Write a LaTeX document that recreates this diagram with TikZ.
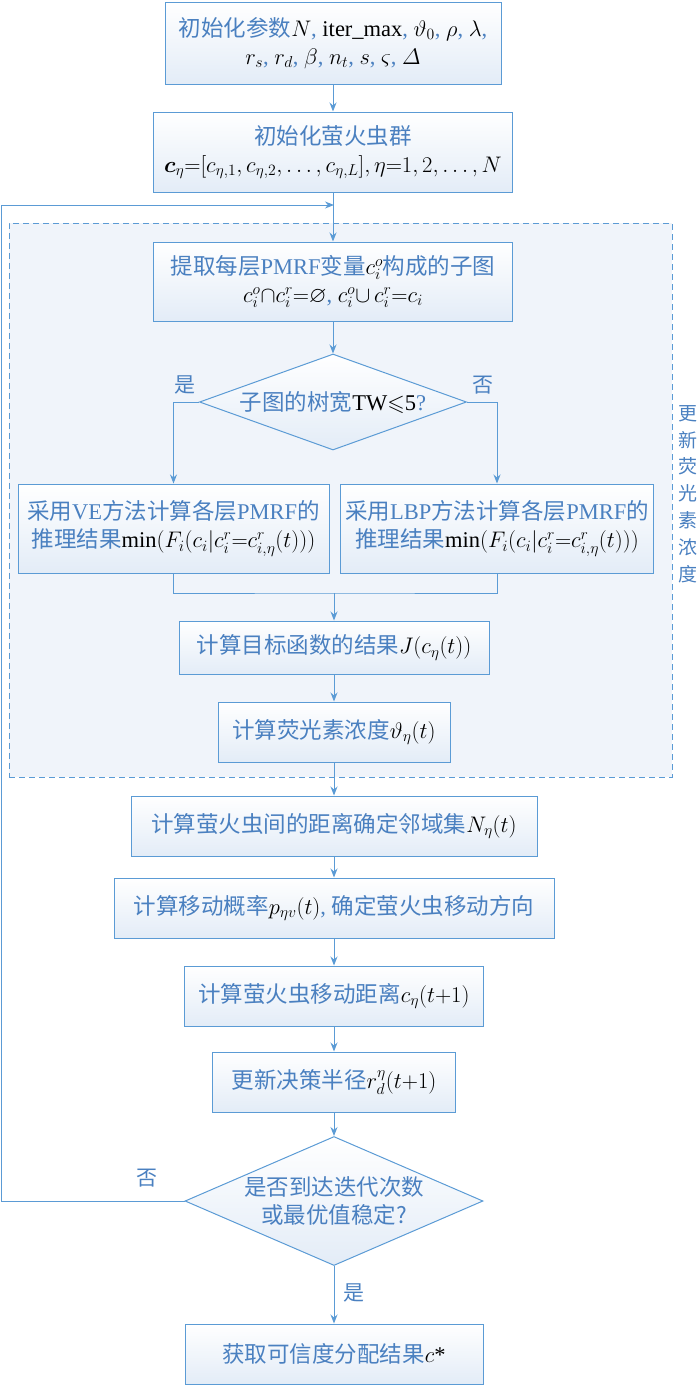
\documentclass[tikz,border=0pt]{standalone}
\usepackage{fix-cm}
\usepackage{amsmath,amssymb}
\usepackage{fontspec}
\setmainfont{Liberation Serif}
\newfontfamily\cjk{Noto Sans CJK SC}
\usetikzlibrary{shapes.geometric,arrows.meta}
\definecolor{lnc}{HTML}{5B9BD5}
\definecolor{txc}{HTML}{4A80C0}
\definecolor{fillb}{HTML}{E3ECF7}
\definecolor{dashf}{HTML}{F0F4FA}
\newcommand\mm[1]{\textcolor{black}{$#1$}}
\newcommand\zh[1]{{\cjk #1}}
\newcommand\bk[1]{\textcolor{black}{#1}}
\tikzset{
  boxs/.style={draw=lnc, line width=1pt, top color=white, bottom color=fillb,
    inner sep=0pt, align=center, text=txc, font=\fontsize{22.5}{28}\selectfont},
  dia/.style={diamond, draw=lnc, line width=1pt, top color=white, bottom color=fillb, inner sep=0pt},
  txt/.style={align=center, text=txc, font=\fontsize{22.5}{28}\selectfont, inner sep=0pt},
  lbl/.style={text=txc, font=\fontsize{21}{24}\selectfont\cjk, inner sep=0pt},
  ln/.style={draw=lnc, line width=1pt},
  arr/.style={ln, -{Stealth[length=9pt,width=7pt]}},
}
\begin{document}
\begin{tikzpicture}[x=1pt,y=-1pt]
\useasboundingbox (0,0) rectangle (700,1385);
% dashed region
\node[draw=lnc, dashed, dash pattern=on 6pt off 4pt, line width=1pt, fill=dashf, minimum width=663pt, minimum height=554pt, inner sep=0pt] (reg) at (340.5,500) {};
\node[text=txc, inner sep=0pt, align=center, font=\fontsize{19}{26.8}\selectfont\cjk] (side) at (688,494) {更\\新\\荧\\光\\素\\浓\\度};

\node[boxs, minimum width=336pt, minimum height=82pt] (b1) at (333,43)
 {\zh{初始化参数}\mm{N}, \bk{iter\_max}, \mm{\vartheta_0}, \mm{\rho}, \mm{\lambda},\\ \mm{r_s}, \mm{r_d}, \mm{\beta}, \mm{n_t}, \mm{s}, \mm{\varsigma}, \mm{\varDelta}};
\node[boxs, minimum width=359pt, minimum height=80pt] (b2) at (333,152)
 {\zh{初始化萤火虫群}\\ \mm{\boldsymbol{c}_\eta{=}[c_{\eta,1},c_{\eta,2},\ldots,c_{\eta,L}],\eta{=}1,2,\ldots,N}};
\node[boxs, minimum width=359pt, minimum height=79pt] (b3) at (333,281.5)
 {\zh{提取每层}PMRF\zh{变量}\mm{c_i^o}\zh{构成的子图}\\ \mm{c_i^o{\cap}c_i^r{=}\varnothing}, \mm{c_i^o{\cup}\,c_i^r{=}c_i}};
\node[dia, minimum width=267pt, minimum height=96pt] (d1) at (333,402) {};
\node[txt] (d1t) at (d1) {\zh{子图的树宽}\bk{TW}\mm{\leqslant}\bk{5}?};
\node[boxs, minimum width=311pt, minimum height=89pt] (ve) at (173.5,528.5)
 {\zh{采用}VE\zh{方法计算各层}PMRF\zh{的}\\ \zh{推理结果}\bk{min}\mm{(F_i(c_i|c_i^r{=}c^r_{i,\eta}(t)))}};
\node[boxs, minimum width=313pt, minimum height=89pt] (lbp) at (497,528.5)
 {\zh{采用}LBP\zh{方法计算各层}PMRF\zh{的}\\ \zh{推理结果}\bk{min}\mm{(F_i(c_i|c_i^r{=}c^r_{i,\eta}(t)))}};
\coordinate (mg) at (334,593);
\node[boxs, minimum width=310pt, minimum height=53pt] (bj) at (334,647.5)
 {\zh{计算目标函数的结果}\mm{J(c_\eta(t))}};
\node[boxs, minimum width=232pt, minimum height=60pt] (bt) at (334,732)
 {\zh{计算荧光素浓度}\mm{\vartheta_\eta(t)}};
\node[boxs, minimum width=406pt, minimum height=60pt] (bn) at (334,826)
 {\zh{计算萤火虫间的距离确定邻域集}\mm{N_\eta(t)}};
\node[boxs, minimum width=440pt, minimum height=60pt] (bp) at (334,908)
 {\zh{计算移动概率}\mm{p_{\eta v}(t)}, \zh{确定萤火虫移动方向}};
\node[boxs, minimum width=299pt, minimum height=60pt] (bc) at (334,996)
 {\zh{计算萤火虫移动距离}\mm{c_\eta(t{+}1)}};
\node[boxs, minimum width=243pt, minimum height=60pt] (br) at (334,1082)
 {\zh{更新决策半径}\mm{r_d^\eta(t{+}1)}};
\node[dia, minimum width=298pt, minimum height=129pt] (d2) at (334,1201) {};
\node[txt] (d2t) at (d2) {\zh{是否到达迭代次数}\\ \zh{或最优值稳定?}};
\node[boxs, minimum width=298pt, minimum height=60pt] (bf) at (334,1354)
 {\zh{获取可信度分配结果}\mm{c}\bk{*}};

\coordinate (fbc) at (1,205);
\coordinate (fbe) at (334,205);

% connectors
\draw[arr] (b1) -- (b2);
\draw[arr] (b2) -- (b3);
\draw[arr] (b3) -- (d1);
\draw[arr] (d1.west) -| (ve.north);
\draw[arr] (d1.east) -| (lbp.north);
\draw[ln] (ve.south) |- (mg) -| (lbp.south);
\draw[arr] (mg) -- (bj.north);
\draw[arr] (bj) -- (bt);
\draw[arr] (bt) -- (bn);
\draw[arr] (bn) -- (bp);
\draw[arr] (bp) -- (bc);
\draw[arr] (bc) -- (br);
\draw[arr] (br) -- (d2);
\draw[arr] (d2) -- (bf);
\draw[ln] (d2.west) -| (fbc);
\draw[arr] (fbc) -- (fbe);

\node[lbl] (l1) at (185,385) {是};
\node[lbl] (l2) at (483,385) {否};
\node[lbl] (l3) at (147,1178) {否};
\node[lbl] (l4) at (354,1293) {是};
\end{tikzpicture}
\end{document}
